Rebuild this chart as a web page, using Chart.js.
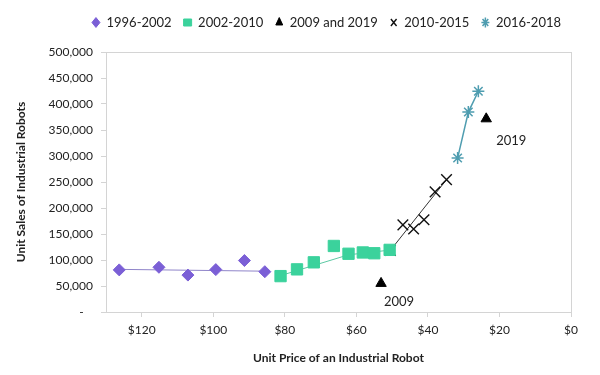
<!DOCTYPE html>
<html>
<head>
<meta charset="utf-8">
<script src="https://cdn.jsdelivr.net/npm/chart.js@4"></script>
<style>
  body { margin: 0; background: #fff; }
  #wrap { width: 600px; height: 375px; }
</style>
</head>
<body>
<div id="wrap"><canvas id="robotChart" width="600" height="375"></canvas></div>
<script>
// values (price in $k, unit sales)
const price9602 = [126.3, 115.2, 107.1, 99.3, 91.3, 85.6];
const sales9602 = [81000, 86000, 71000, 81500, 99000, 77500];

const price0210 = [81.2, 76.6, 71.9, 66.3, 62.2, 58.2, 55.0, 50.7];
const sales0210 = [69000, 82000, 95500, 127000, 112000, 114500, 113000, 119500];

const priceTri = [53.1, 23.7];
const salesTri = [55000, 371500];
const triLabels = ['2009', '2019'];

const price1015 = [50.5, 47.0, 44.0, 41.1, 38.0, 34.8];
const sales1015 = [118500, 167500, 159500, 177500, 231000, 254500];

const price1618 = [31.7, 28.7, 25.9];
const sales1618 = [296000, 384500, 424500];

// connecting lines as they appear in the picture
const purpleLinePrice = [126.3, 85.6];
const purpleLineSales = [82000, 78500];
const greenLinePrice = [81.2, 62.2, 50.7];
const greenLineSales = [70000, 110000, 119000];
const blackLinePrice = [50.5, 34.8];
const blackLineSales = [118500, 254500];

const xTicks = [0, 20, 40, 60, 80, 100, 120];

const pts = (xs, ys) => xs.map((x, i) => ({ x: x, y: ys[i] }));

// extra room under the legend, and nudge it right over the plot
const legendGap = {
  id: 'legendGap',
  beforeInit(chart) {
    const fit = chart.legend.fit;
    chart.legend.fit = function () {
      fit.bind(chart.legend)();
      this.height += 13;
    };
  },
  afterLayout(chart) {
    chart.legend.left += 36;
    chart.legend.right += 36;
  }
};

const boxPlugin = {
  id: 'box',
  afterDraw(chart) {
    const a = chart.chartArea;
    const c = chart.ctx;
    c.save();
    c.strokeStyle = '#d4d4d4';
    c.lineWidth = 1;
    c.strokeRect(Math.round(a.left) + 0.5, Math.round(a.top) + 0.5, Math.round(a.right - a.left), Math.round(a.bottom - a.top));
    c.restore();
  }
};

const yearLabels = {
  id: 'yearLabels',
  afterDatasetsDraw(chart) {
    const meta = chart.getDatasetMeta(2);
    const offs = [[18, 18], [25, 22]];
    const c = chart.ctx;
    c.save();
    c.font = '13px Lato';
    c.fillStyle = '#222';
    c.textAlign = 'center';
    c.textBaseline = 'middle';
    meta.data.forEach((p, i) => {
      c.fillText(triLabels[i], p.x + offs[i][0], p.y + offs[i][1]);
    });
    c.restore();
  }
};

const ctx = document.getElementById('robotChart').getContext('2d');

new Chart(ctx, {
  type: 'scatter',
  data: {
    datasets: [
      { label: '1996-2002', data: pts(price9602, sales9602), pointStyle: 'rectRot', pointRadius: 6,
        backgroundColor: '#7b5fd6', borderColor: '#7b5fd6', borderWidth: 1, order: 1 },
      { label: '2002-2010', data: pts(price0210, sales0210), pointStyle: 'rect', pointRadius: 8,
        backgroundColor: '#3bd29c', borderColor: '#3bd29c', borderWidth: 1, order: 1 },
      { label: '2009 and 2019', data: pts(priceTri, salesTri), pointStyle: 'triangle', pointRadius: 6,
        backgroundColor: '#000', borderColor: '#000', borderWidth: 1, order: 1 },
      { label: '2010-2015', data: pts(price1015, sales1015), pointStyle: 'crossRot', pointRadius: 7.5,
        backgroundColor: '#111', borderColor: '#111', borderWidth: 1.4, order: 1 },
      { label: '2016-2018', data: pts(price1618, sales1618), pointStyle: 'star', pointRadius: 6,
        backgroundColor: '#4f9db0', borderColor: '#4f9db0', order: 1,
        showLine: true, borderWidth: 1.5 },
      { label: 'l1', data: pts(purpleLinePrice, purpleLineSales), showLine: true, pointRadius: 0,
        borderColor: '#8f84c9', borderWidth: 1, order: 2 },
      { label: 'l2', data: pts(greenLinePrice, greenLineSales), showLine: true, pointRadius: 0,
        borderColor: '#5cc9a3', borderWidth: 1, order: 2 },
      { label: 'l3', data: pts(blackLinePrice, blackLineSales), showLine: true, pointRadius: 0,
        borderColor: '#333', borderWidth: 1, order: 2 }
    ]
  },
  options: {
    responsive: false,
    animation: false,
    layout: { padding: { left: 10, right: 29, top: 4, bottom: 6 } },
    plugins: {
      tooltip: { enabled: false },
      legend: {
        position: 'top',
        labels: {
          usePointStyle: true,
          boxHeight: 7,
          pointStyleWidth: 8,
          padding: 12,
          color: '#222',
          font: { family: 'Lato', size: 13 },
          filter: (item) => !item.text.startsWith('l')
        }
      }
    },
    scales: {
      x: {
        type: 'linear',
        reverse: true,
        min: 0,
        max: 130,
        afterBuildTicks: (axis) => { axis.ticks = xTicks.map(v => ({ value: v })); },
        afterFit: (axis) => { axis.height = 57; },
        grid: { drawOnChartArea: false, drawTicks: true, tickLength: 5, color: '#d4d4d4' },
        border: { color: '#d4d4d4' },
        ticks: { color: '#222', padding: 6, font: { family: 'Lato', size: 12 },
          callback: (v) => '$' + v },
        title: { display: true, text: 'Unit Price of an Industrial Robot', color: '#222',
          font: { family: 'Lato', size: 12, weight: 'bold' } }
      },
      y: {
        min: 0,
        max: 500000,
        ticks: { stepSize: 50000, color: '#222', padding: 8, font: { family: 'Lato', size: 12 },
          callback: (v) => v === 0 ? '-   ' : v.toLocaleString('en-US') },
        afterFit: (axis) => { axis.width = 96; },
        grid: { drawOnChartArea: false, drawTicks: true, tickLength: 5, color: '#d4d4d4' },
        border: { color: '#d4d4d4' },
        title: { display: true, text: 'Unit Sales of Industrial Robots', color: '#222',
          font: { family: 'Lato', size: 12, weight: 'bold' } }
      }
    }
  },
  plugins: [legendGap, boxPlugin, yearLabels]
});
</script>
</body>
</html>
